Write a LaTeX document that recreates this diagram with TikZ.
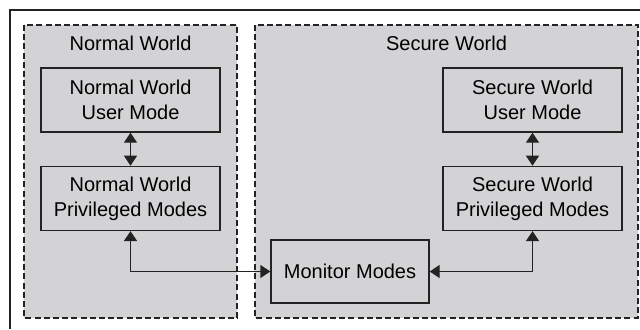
\documentclass[tikz,border=0pt]{standalone}
\usepackage{fontspec}
\setmainfont{Liberation Sans}
\usepackage{xcolor}
\usepackage{tikz}
\usetikzlibrary{arrows.meta, positioning}
\definecolor{worldgray}{RGB}{211,211,213}
\definecolor{framegray}{RGB}{35,35,35}

\begin{document}
\begin{tikzpicture}[
  x=0.5pt, y=-0.5pt,
  font=\fontsize{10}{12.5}\selectfont,
  node distance=16.5pt,
  world/.style={draw=framegray, dash pattern=on 3pt off 1.6pt,
                fill=worldgray, line width=0.6pt},
  mode/.style={draw=framegray, line width=0.7pt, fill=worldgray,
               minimum width=89.5pt, minimum height=32pt,
               align=center, inner sep=0pt},
  arrow/.style={{Triangle[width=6.5pt,length=5pt]}-{Triangle[width=6.5pt,length=5pt]},
                line width=0.7pt, framegray},
]
\useasboundingbox (0,0) rectangle (640,329);
\draw[line width=1pt, framegray] (10,329) -- (10,10) -- (640,10);

% the two worlds
\draw[world] (24,25) rectangle (237,318);
\draw[world] (255,25) rectangle (638,318);
\node (nwlabel) at (130.5,43) {Normal World};
\node (swlabel) at (446.5,43) {Secure World};

% modes
\node[mode] (nwuser) at (130.5,100) {Normal World\\User Mode};
\node[mode, below=of nwuser] (nwpriv) {Normal World\\Privileged Modes};
\node[mode] (swuser) at (532.5,100) {Secure World\\User Mode};
\node[mode, below=of swuser] (swpriv) {Secure World\\Privileged Modes};
\node[mode, minimum width=79pt, minimum height=31.5pt] (monitor) at (350,271.5) {Monitor Modes};

\draw[arrow] (nwuser) -- (nwpriv);
\draw[arrow] (swuser) -- (swpriv);
\draw[arrow] (nwpriv) |- (monitor);
\draw[arrow] (swpriv) |- (monitor);
\end{tikzpicture}
\end{document}
